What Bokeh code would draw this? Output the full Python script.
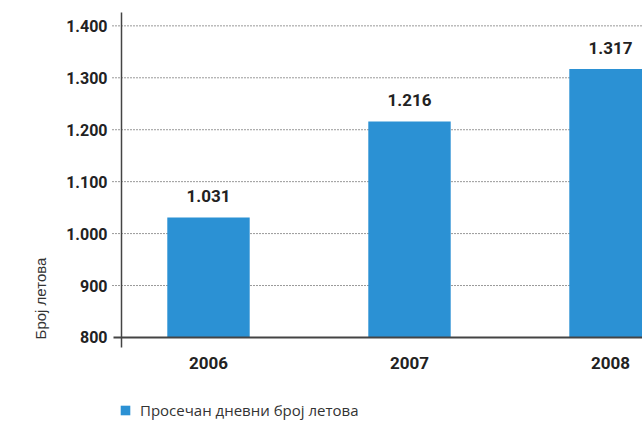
import math
from bokeh.plotting import figure
from bokeh.models import (ColumnDataSource, FixedTicker, LabelSet, Label, Range1d,
                          Legend, LegendItem, LinearAxis)
from bokeh.core.properties import value
from bokeh.embed import file_html
from bokeh.resources import INLINE

years = [2006, 2007, 2008]
flights = [1031, 1216, 1317]
y_ticks = [800, 900, 1000, 1100, 1200, 1300, 1400]
y_tick_labels = ["800", "900", "1.000", "1.100", "1.200", "1.300", "1.400"]
year_labels = ["2006", "2007", "2008"]
series_name = "Просечан дневни број летова"
y_title = "Број летова"

W, H = 642, 421
X0, X1 = 2004.9652, 2008.1592      # full-canvas frame
Y0, Y1 = 638.2, 1448.8


def px_x(px):
    return X0 + px * (X1 - X0) / W


def px_y(py):
    return Y1 - py * (Y1 - Y0) / H


bar_labels = [f"{v:,}".replace(",", ".") for v in flights]
src = ColumnDataSource(dict(x=years, top=flights, lab=bar_labels))
grid_src = ColumnDataSource(dict(y=y_ticks[1:]))

FONT = "Roboto"
BAR = "#2b91d4"
INK = "#222222"
AX = "#444444"

p = figure(width=W, height=H, output_backend="svg", toolbar_location=None,
           x_range=Range1d(X0, X1), y_range=Range1d(Y0, Y1),
           x_axis_location=None, y_axis_location=None,
           min_border=0, min_border_left=0, min_border_right=0,
           min_border_top=0, min_border_bottom=0)
p.outline_line_color = None
p.background_fill_color = "white"
p.grid.visible = False

# dotted gridlines
p.segment(x0=px_x(112), x1=X1, y0="y", y1="y", source=grid_src,
          line_color="#333333", line_dash="1 2", line_width=1)

bars = p.vbar(x="x", top="top", bottom=800, width=0.41, source=src,
              fill_color=BAR, line_color=None)

p.add_layout(LabelSet(x="x", y="top", text="lab", source=src, y_offset=15,
                      text_align="center", text_baseline="alphabetic",
                      text_font=value(FONT), text_font_style="bold",
                      text_font_size="17px", text_color=INK))

# y axis
ya = LinearAxis(fixed_location=px_x(121), bounds=(px_y(347), px_y(12)),
                ticker=FixedTicker(ticks=y_ticks),
                major_label_overrides={t: l for t, l in zip(y_ticks, y_tick_labels)})
ya.axis_line_color = AX
ya.axis_line_width = 1.5
ya.major_tick_line_color = None
ya.minor_tick_line_color = None
ya.major_tick_out = 0
ya.major_tick_in = 0
ya.major_label_standoff = 14
ya.major_label_text_font = FONT
ya.major_label_text_font_style = "bold"
ya.major_label_text_font_size = "16px"
ya.major_label_text_color = INK
p.add_layout(ya, "left")

# x axis (baseline at 800)
xa = LinearAxis(fixed_location=800, bounds=(px_x(113), X1),
                ticker=FixedTicker(ticks=years),
                major_label_overrides={y: l for y, l in zip(years, year_labels)})
xa.axis_line_color = AX
xa.axis_line_width = 2
xa.major_tick_line_color = None
xa.minor_tick_line_color = None
xa.major_tick_out = 0
xa.major_tick_in = 0
xa.major_label_standoff = 20
xa.major_label_text_font = FONT
xa.major_label_text_font_style = "bold"
xa.major_label_text_font_size = "17px"
xa.major_label_text_color = INK
p.add_layout(xa, "below")

p.add_layout(Label(x=px_x(40), y=px_y(298), text=y_title, angle=math.pi / 2,
                   text_align="center", text_baseline="middle",
                   text_font="Liberation Sans", text_font_size="15px",
                   text_color="#333333"))

lg = Legend(items=[LegendItem(label=series_name, renderers=[bars])],
            location=(119, 1), orientation="horizontal")
lg.border_line_color = None
lg.background_fill_alpha = 0
lg.padding = 0
lg.margin = 0
lg.spacing = 0
lg.glyph_width = 12
lg.glyph_height = 12
lg.label_standoff = 9
lg.label_height = 12
lg.label_text_font = "Open Sans"
lg.label_text_font_size = "15px"
lg.label_text_color = "#333333"
p.add_layout(lg)

open("out.html", "w").write(file_html(p, INLINE))
